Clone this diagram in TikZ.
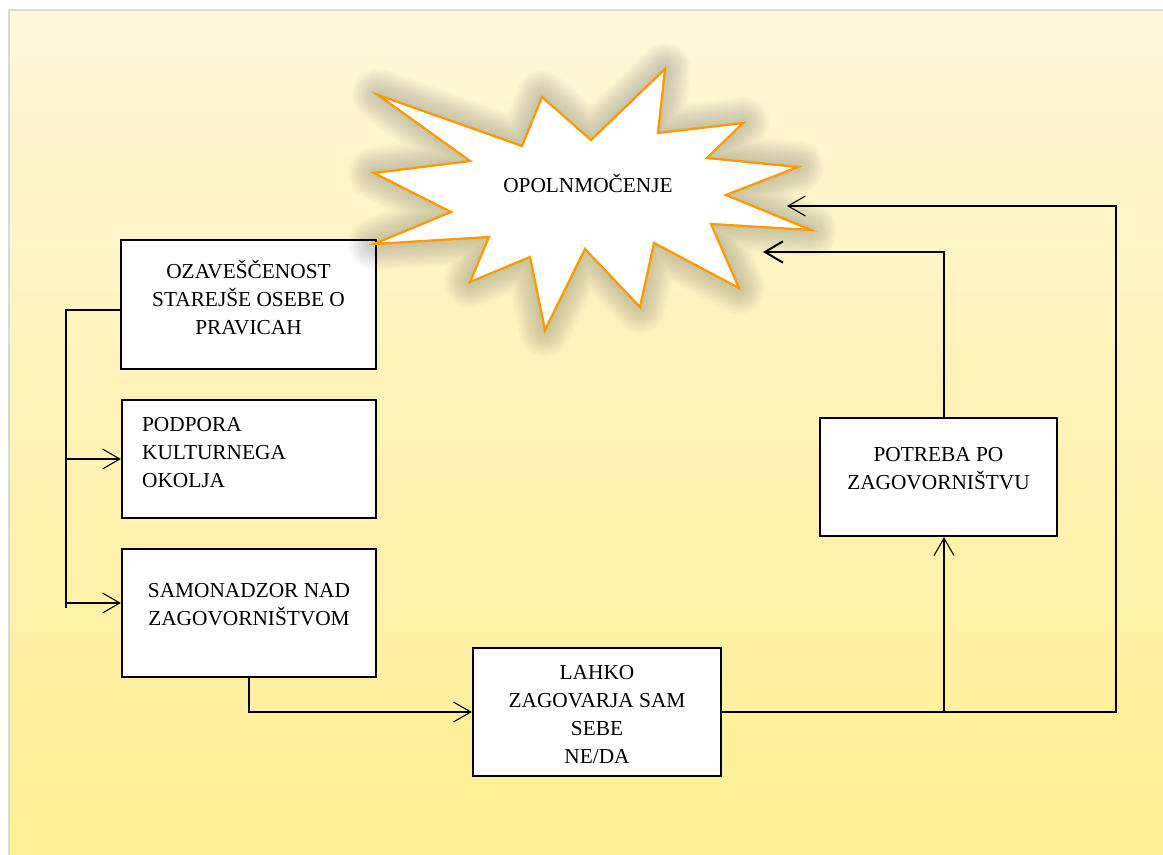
\documentclass[tikz,border=0pt]{standalone}
\usepackage{fontspec}
\setmainfont{Liberation Serif}
\usepackage{xcolor}
\usetikzlibrary{arrows.meta,shadows}
\definecolor{bgtop}{HTML}{FFF7D9}
\definecolor{bgbot}{HTML}{FFEE91}
\definecolor{burstorange}{HTML}{FF9900}
\definecolor{glowgray}{HTML}{303030}

\begin{document}
\begin{tikzpicture}[x=0.75pt,y=-0.75pt,
	box/.style={rectangle, draw=black, line width=1.7pt, fill=white, inner sep=0pt,
		drop shadow={shadow xshift=1.1pt, shadow yshift=-1.1pt, fill=black!45, opacity=1}},
	box text/.style={font=\fontsize{16}{21}\selectfont, align=center, inner sep=0pt},
	conn/.style={line width=0.8pt},
	arr/.style={conn, -{Straight Barb[length=13pt,width=15pt]}},
	thick arr/.style={line width=1.5pt, -{Straight Barb[length=13.5pt,width=16pt]}}]
	\useasboundingbox (0,0) rectangle (1163,855);
	\clip (0,0) rectangle (1163,855);
	% Background
	\fill[white] (0,0) rectangle (1163,855);
	\shade[top color=bgtop, bottom color=bgbot] (9,10) rectangle (1180,870);
	\draw[black!15, line width=1.5pt] (9,870) -- (9,10) -- (1180,10);
	
	% Nodes
	\node[box, minimum width=191.25pt, minimum height=96.75pt] (ozav) at (248.5,304.5) {};
	\node[box, minimum width=190.5pt, minimum height=88.5pt] (podp) at (249,459) {};
	\node[box, minimum width=190.5pt, minimum height=96pt] (samo) at (249,613) {};
	\node[box, minimum width=186pt, minimum height=96pt] (lahko) at (597,712) {};
	\node[box, minimum width=177.75pt, minimum height=88.5pt] (potr) at (938.5,477) {};
	
	\node[box text] (ozavT) at ([yshift=5.6pt]ozav.center) {OZAVEŠČENOST\\STAREJŠE OSEBE O\\PRAVICAH};
	\node[box text, align=left, anchor=west] (podpT) at ([xshift=15.75pt, yshift=4.5pt]podp.west) {PODPORA\\KULTURNEGA\\OKOLJA};
	\node[box text] (samoT) at ([yshift=6pt]samo.center) {SAMONADZOR NAD\\ZAGOVORNIŠTVOM};
	\node[box text] (lahkoT) at ([yshift=-2.25pt]lahko.center) {LAHKO\\ZAGOVARJA SAM\\SEBE\\NE/DA};
	\node[box text] (potrT) at ([yshift=6pt]potr.center) {POTREBA PO\\ZAGOVORNIŠTVU};
	
	% Burst
	\def\burst{(378,95) -- (470,161) -- (374,173) -- (451,212) -- (374,244) -- (489,237)
		-- (470,282) -- (530,257) -- (545,330) -- (585,249) -- (640,307) -- (654,243)
		-- (739,288) -- (711,224) -- (811,230) -- (726,195) -- (798,167) -- (707,158)
		-- (743,123) -- (658,133) -- (665,69) -- (591,140) -- (542,97) -- (522,146) -- cycle}
	\foreach \w in {40,38,...,2}
		\draw[glowgray, opacity=0.013, line width=\w pt, line join=round] \burst;
	\filldraw[fill=white, draw=burstorange, line width=1.7pt] \burst;
	\node[box text] (opol) at (588,183) {OPOLNMOČENJE};
	\coordinate (inA) at (787,206);
	\coordinate (inB) at (763,252);
	
	% Connectors
	\coordinate (bTop) at (66,310);
	\coordinate (bMid) at (66,603);
	\coordinate (bBot) at (66,608);
	\coordinate (rTop) at (1116,206);
	\coordinate (jn) at (944,712);
	\draw[conn] (ozav.west |- bTop) -- (bTop) -- (bBot);
	\draw[arr] (bTop |- podp.west) -- (podp.west);
	\draw[arr] (bMid) -- (bMid -| samo.west);
	\draw[arr] (samo.south) |- (lahko.west);
	\draw[arr] (lahko.east) -| (rTop) -- (inA);
	\draw[arr] (jn) -- (jn |- potr.south);
	\draw[thick arr] (jn |- potr.north) |- (inB);
\end{tikzpicture}
\end{document}
